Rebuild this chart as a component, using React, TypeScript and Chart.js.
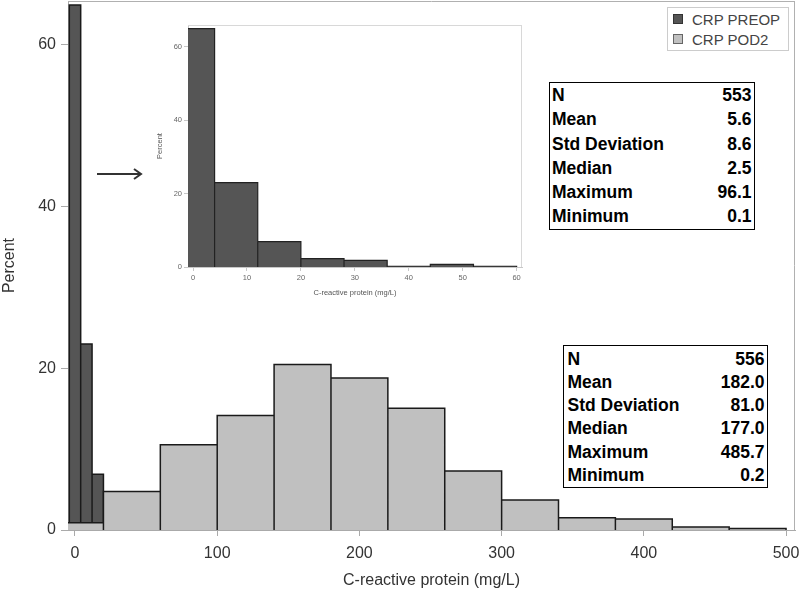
import React, { useEffect, useRef } from "react";
import { Chart, registerables } from "chart.js";

Chart.register(...registerables);

// ---- Data ----
const seriesNames = ["CRP PREOP", "CRP POD2"];
// CRP PREOP histogram (bin width 8 mg/L, centred on 0, 8, 16, ...)
const preopEdges = [-4, 4, 12, 20, 28, 36, 44, 52, 60];
const preopPercent = [64.9, 23.0, 6.9, 2.3, 1.8, 0.2, 0.7, 0.2];
// CRP POD2 histogram (bin width 40 mg/L, centred on 0, 40, 80, ...)
const pod2Edges = [-20, 20, 60, 100, 140, 180, 220, 260, 300, 340, 380, 420, 460, 500];
const pod2Percent = [0.9, 4.75, 10.55, 14.15, 20.45, 18.8, 15.05, 7.3, 3.7, 1.5, 1.36, 0.36, 0.18];

const mainXTicks = [0, 100, 200, 300, 400, 500];
const mainYTicks = [0, 20, 40, 60];
const insetXTicks = [0, 10, 20, 30, 40, 50, 60];
const insetYTicks = [0, 20, 40, 60];

const statLabels = ["N", "Mean", "Std Deviation", "Median", "Maximum", "Minimum"];
const preopStats = ["553", "5.6", "8.6", "2.5", "96.1", "0.1"];
const pod2Stats = ["556", "182.0", "81.0", "177.0", "485.7", "0.2"];

const xTitle = "C-reactive protein (mg/L)";
const yTitle = "Percent";

const FONT = "'Liberation Sans', Arial, sans-serif";
const DARK = "#555555";
const LIGHT = "#c0c0c0";

function histPoints(edges: number[], heights: number[]) {
  const pts: { x: number; y: number }[] = [];
  heights.forEach((h, i) => {
    pts.push({ x: edges[i], y: 0 });
    pts.push({ x: edges[i], y: h });
    pts.push({ x: edges[i + 1], y: h });
    pts.push({ x: edges[i + 1], y: 0 });
  });
  return pts;
}

const framePlugin = (color: string, sides: string[]) => ({
  id: "frame",
  beforeDatasetsDraw(chart: any) {
    const { ctx, chartArea: a } = chart;
    ctx.save();
    ctx.strokeStyle = color;
    ctx.lineWidth = 1;
    ctx.beginPath();
    if (sides.includes("top")) {
      ctx.moveTo(a.left, a.top + 0.5);
      ctx.lineTo(a.right, a.top + 0.5);
    }
    if (sides.includes("right")) {
      ctx.moveTo(a.right - 0.5, a.top);
      ctx.lineTo(a.right - 0.5, a.bottom);
    }
    ctx.stroke();
    ctx.restore();
  },
});

const fixWidth = (w: number) => (a: any) => {
  a.width = w;
  a.paddingTop = 0;
  a.paddingBottom = 0;
  a.paddingLeft = 0;
  a.paddingRight = 0;
};
const fixHeight = (h: number) => (a: any) => {
  a.height = h;
  a.paddingTop = 0;
  a.paddingBottom = 0;
  a.paddingLeft = 0;
  a.paddingRight = 0;
};

function MainChart() {
  const ref = useRef<HTMLCanvasElement>(null);
  useEffect(() => {
    const chart = new Chart(ref.current as HTMLCanvasElement, {
      type: "line",
      data: {
        datasets: [
          {
            label: seriesNames[0],
            data: histPoints(preopEdges, preopPercent),
            backgroundColor: DARK,
            borderColor: "#1a1a1a",
            borderWidth: 1.5,
            fill: "origin",
            pointRadius: 0,
            tension: 0,
            order: 1,
          },
          {
            label: seriesNames[1],
            data: histPoints(pod2Edges, pod2Percent),
            backgroundColor: LIGHT,
            borderColor: "#1a1a1a",
            borderWidth: 1.5,
            fill: "origin",
            pointRadius: 0,
            tension: 0,
            order: 0,
          },
        ],
      },
      options: {
        animation: false,
        responsive: false,
        maintainAspectRatio: false,
        layout: { padding: { top: 1, right: 5, left: 0, bottom: 0 } },
        plugins: { legend: { display: false }, tooltip: { enabled: false } },
        scales: {
          x: {
            type: "linear",
            min: -4.92,
            max: 506.3,
            afterBuildTicks: (a: any) => {
              a.ticks = mainXTicks.map((v) => ({ value: v }));
            },
            afterFit: fixHeight(63),
            grid: { drawOnChartArea: false, tickLength: 6, color: "#aaaaaa" },
            border: { color: "#aaaaaa" },
            ticks: { font: { family: FONT, size: 16 }, color: "#333333", padding: 8, maxRotation: 0 },
            title: {
              display: true,
              text: xTitle,
              font: { family: FONT, size: 16 },
              color: "#333333",
              padding: { top: 0, bottom: 3 },
            },
          },
          y: {
            min: 0,
            max: 65.4,
            afterBuildTicks: (a: any) => {
              a.ticks = mainYTicks.map((v) => ({ value: v }));
            },
            afterFit: fixWidth(68),
            grid: { drawOnChartArea: false, tickLength: 7, color: "#aaaaaa" },
            border: { color: "#aaaaaa" },
            ticks: { font: { family: FONT, size: 16 }, color: "#333333", padding: 5 },
            title: {
              display: true,
              text: yTitle,
              font: { family: FONT, size: 16 },
              color: "#333333",
              padding: { top: 0, bottom: 0 },
            },
          },
        },
      },
      plugins: [framePlugin("#b0b0b0", ["top", "right"])],
    } as any);
    return () => chart.destroy();
  }, []);
  return <canvas ref={ref} width={800} height={593} style={{ display: "block" }} />;
}

function InsetChart() {
  const ref = useRef<HTMLCanvasElement>(null);
  useEffect(() => {
    const chart = new Chart(ref.current as HTMLCanvasElement, {
      type: "line",
      data: {
        datasets: [
          {
            label: seriesNames[0],
            data: histPoints(preopEdges, preopPercent),
            backgroundColor: DARK,
            borderColor: "#222222",
            borderWidth: 1.2,
            fill: "origin",
            pointRadius: 0,
            tension: 0,
          },
        ],
      },
      options: {
        animation: false,
        responsive: false,
        maintainAspectRatio: false,
        layout: { padding: { top: 10, right: 8, left: 0, bottom: 0 } },
        plugins: { legend: { display: false }, tooltip: { enabled: false } },
        scales: {
          x: {
            type: "linear",
            min: -0.93,
            max: 61,
            afterBuildTicks: (a: any) => {
              a.ticks = insetXTicks.map((v) => ({ value: v }));
            },
            afterFit: fixHeight(38),
            grid: { drawOnChartArea: false, tickLength: 4, color: "#c8c8c8" },
            border: { color: "#c8c8c8" },
            ticks: { font: { family: FONT, size: 7.5 }, color: "#666666", padding: 2, maxRotation: 0 },
            title: {
              display: true,
              text: xTitle,
              font: { family: FONT, size: 7.5 },
              color: "#555555",
              padding: { top: 0, bottom: 8 },
            },
          },
          y: {
            min: 0,
            max: 65.9,
            afterBuildTicks: (a: any) => {
              a.ticks = insetYTicks.map((v) => ({ value: v }));
            },
            afterFit: fixWidth(38),
            grid: { drawOnChartArea: false, tickLength: 4, color: "#c8c8c8" },
            border: { color: "#c8c8c8" },
            ticks: { font: { family: FONT, size: 7.5 }, color: "#666666", padding: 2 },
            title: {
              display: true,
              text: yTitle,
              font: { family: FONT, size: 7.5 },
              color: "#555555",
              padding: { top: 5, bottom: 0 },
            },
          },
        },
      },
      plugins: [framePlugin("#d8d8d8", ["top", "right"])],
    } as any);
    return () => chart.destroy();
  }, []);
  return <canvas ref={ref} width={380} height={290} style={{ display: "block" }} />;
}

function StatBox(props: { values: string[]; left: number; top: number; width: number; rowH: number; padTop: number; padL: number; padR: number; size: number }) {
  const { values, left, top, width, rowH, padTop, padL, padR, size } = props;
  return (
    <div
      style={{
        position: "absolute",
        left,
        top,
        width,
        boxSizing: "border-box",
        border: "1.5px solid #000",
        paddingTop: padTop,
        paddingLeft: padL,
        paddingRight: padR,
        background: "#fff",
        fontFamily: FONT,
        fontWeight: "bold",
        fontSize: size,
        color: "#000",
      }}
    >
      {statLabels.map((l, i) => (
        <div key={l} style={{ display: "flex", justifyContent: "space-between", height: rowH, lineHeight: rowH + "px", whiteSpace: "nowrap" }}>
          <span>{l}</span>
          <span>{values[i]}</span>
        </div>
      ))}
    </div>
  );
}

export default function App() {
  const legendColors = [
    { fill: DARK, border: "#333333" },
    { fill: LIGHT, border: "#666666" },
  ];
  return (
    <div style={{ position: "absolute", left: 0, top: 0, width: 800, height: 593, background: "#fff", overflow: "hidden" }}>
      <div style={{ position: "absolute", left: 0, top: 0 }}>
        <MainChart />
      </div>
      <div style={{ position: "absolute", left: 150, top: 15 }}>
        <InsetChart />
      </div>
      <svg style={{ position: "absolute", left: 92, top: 164 }} width={56} height={20}>
        <line x1={5} y1={10} x2={49} y2={10} stroke="#333" strokeWidth={2} />
        <polyline points="42,5 49,10 42,15" fill="none" stroke="#333" strokeWidth={2} />
      </svg>
      <div
        style={{
          position: "absolute",
          left: 667,
          top: 7,
          width: 122,
          height: 44,
          boxSizing: "border-box",
          border: "1px solid #cccccc",
          background: "#fff",
          fontFamily: FONT,
          fontSize: 15,
          color: "#444",
          paddingTop: 1,
        }}
      >
        {seriesNames.map((n, i) => (
          <div key={n} style={{ display: "flex", alignItems: "center", height: 20, paddingLeft: 5 }}>
            <span
              style={{
                display: "inline-block",
                width: 10,
                height: 10,
                boxSizing: "border-box",
                background: legendColors[i].fill,
                border: "1px solid " + legendColors[i].border,
                marginRight: 9,
              }}
            />
            <span>{n}</span>
          </div>
        ))}
      </div>
      <StatBox values={preopStats} left={549} top={82} width={206} rowH={24.3} padTop={0} padL={2} padR={2.5} size={17.5} />
      <StatBox values={pod2Stats} left={563} top={345} width={205} rowH={23.3} padTop={1.5} padL={3.5} padR={2.5} size={17.5} />
    </div>
  );
}
